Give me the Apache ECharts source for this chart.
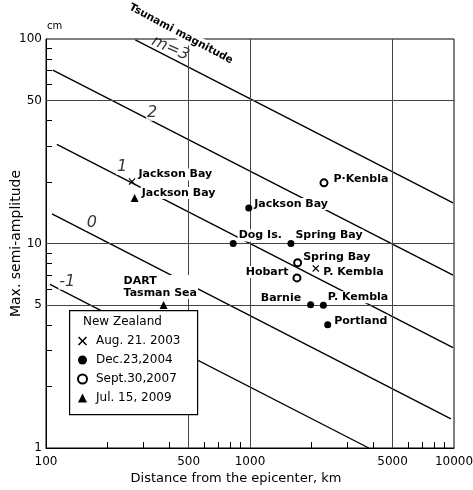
<!DOCTYPE html>
<html><head><meta charset="utf-8">
<script src="https://cdn.jsdelivr.net/npm/echarts@6/dist/echarts.min.js"></script>
<style>html,body{margin:0;padding:0;background:#fff}#c{width:473px;height:490px}</style>
</head><body><div id="c"></div>
<script>
// ---- axes ----
const xTickLabels = [100, 500, 1000, 5000, 10000];
const xMinorTicks = [200, 300, 400, 600, 700, 800, 900, 2000, 3000, 4000, 6000, 7000, 8000, 9000];
const yTickLabels = [1, 5, 10, 50, 100];
const yMinorTicks = [2, 3, 4, 6, 7, 8, 9, 20, 30, 40, 60, 70, 80, 90];
const xGridValues = [500, 1000, 5000];
const yGridValues = [5, 10, 50];

// ---- tsunami magnitude lines (distance km, amplitude cm) ----
const magNames = ['m=3', '2', '1', '0', '-1'];
const magLine3 = [[274, 98.9], [9890, 15.8]];
const magLine2 = [[108, 70.5], [9890, 7.0]];
const magLine1 = [[113, 30.5], [9890, 3.1]];
const magLine0 = [[107, 13.96], [9660, 1.39]];
const magLineM1 = [[104.6, 6.32], [3820, 1.0]];
const magLabelAt = [[407, 90], [331, 43.5], [236, 23.7], [168, 12.6], [127, 6.5]];

// ---- observations ----
const seriesNames = ['Aug. 21. 2003', 'Dec.23,2004', 'Sept.30,2007', 'Jul. 15, 2009'];
const aug2003Site = ['Jackson Bay', 'P. Kembla'];
const aug2003Dist = [264, 2100];
const aug2003Amp = [20.1, 7.55];
const dec2004Site = ['Jackson Bay', 'Dog Is.', 'Spring Bay', 'Barnie', 'P. Kembla', 'Portland'];
const dec2004Dist = [986, 827, 1587, 1982, 2289, 2404];
const dec2004Amp = [14.9, 10.0, 10.0, 5.02, 4.99, 4.01];
const sep2007Site = ['P·Kenbla', 'Spring Bay', 'Hobart'];
const sep2007Dist = [2305, 1712, 1699];
const sep2007Amp = [19.8, 8.05, 6.79];
const jul2009Site = ['Jackson Bay', 'DART\nTasman Sea'];
const jul2009Dist = [272, 377];
const jul2009Amp = [16.7, 5.0];

// ---- label placement (layout only) ----
const aug2003Place = [['right', [-3, -7]], ['right', [-2, 4]]];
const dec2004Place = [['right', [-4, -4]], ['right', [-4, -8]], ['right', [-5, -8]], ['left', [0, -7]], ['right', [-5, -8]], ['right', [-3, -4]]];
const sep2007Place = [['right', [-1, -4]], ['right', [-5, -6]], ['left', [2, -6]]];
const jul2009Place = [['right', [-3, -5]], ['top', [-41, 3]]];

const FONT = 'DejaVu Sans';
const crossPath = 'path://M0,1.2L1.2,0L5,3.8L8.8,0L10,1.2L6.2,5L10,8.8L8.8,10L5,6.2L1.2,10L0,8.8L3.8,5Z';

function pts(dist, amp, site, place) {
  return dist.map((d, i) => ({
    value: [d, amp[i]], name: site[i],
    label: {
      position: place[i][0], offset: place[i][1],
      align: place[i][0] === 'top' ? 'left' : undefined
    }
  }));
}
function obsSeries(name, symbol, size, data, extraStyle) {
  return {
    name, type: 'scatter', symbol, symbolSize: size, data, z: 5,
    itemStyle: Object.assign({ color: '#000', opacity: 1 }, extraStyle || {}),
    label: {
      show: true, formatter: p => p.name, color: '#000', fontFamily: FONT,
      fontSize: 11, fontWeight: 'bold', lineHeight: 12,
      backgroundColor: '#fff', padding: [0, 1]
    },
    emphasis: { disabled: true }, silent: true
  };
}
function magSeries(data) {
  return {
    type: 'line', data, symbol: 'none', silent: true, z: 3,
    lineStyle: { color: '#000', width: 1.4 }, emphasis: { disabled: true }
  };
}

const chart = echarts.init(document.getElementById('c'), null, { renderer: 'canvas' });
chart.setOption({
  animation: false,
  backgroundColor: '#fff',
  grid: { left: 46, top: 39, width: 408, height: 409, show: true, borderColor: '#000', borderWidth: 1,
    containLabel: false, outerBoundsMode: 'none' },
  xAxis: {
    type: 'log', logBase: 10, min: 100, max: 10000,
    name: 'Distance from the epicenter, km', nameLocation: 'middle', nameGap: 24, nameMoveOverlap: false,
    nameTextStyle: { fontFamily: FONT, fontSize: 13, color: '#000', padding: [0, 28, 0, 0] },
    axisLine: { show: true, lineStyle: { color: '#000', width: 1 } },
    axisTick: { show: true, inside: true, length: 6, customValues: xMinorTicks, lineStyle: { color: '#000' } },
    axisLabel: { customValues: xTickLabels, formatter: v => String(Math.round(v)),
      fontFamily: FONT, fontSize: 12, color: '#000', margin: 8 },
    splitLine: { show: false }, minorTick: { show: false }
  },
  yAxis: {
    type: 'log', logBase: 10, min: 1, max: 100,
    name: 'Max. semi-amplitude', nameLocation: 'middle', nameGap: 23, nameRotate: 90, nameMoveOverlap: false,
    nameTextStyle: { fontFamily: FONT, fontSize: 14, color: '#000' },
    axisLine: { show: true, lineStyle: { color: '#000', width: 1 } },
    axisTick: { show: true, inside: true, length: 6, customValues: yMinorTicks, lineStyle: { color: '#000' } },
    axisLabel: { customValues: yTickLabels, formatter: v => String(Math.round(v)),
      fontFamily: FONT, fontSize: 12, color: '#000', margin: 4 },
    splitLine: { show: false }, minorTick: { show: false }
  },
  legend: {
    data: seriesNames, orient: 'vertical', left: 77, top: 335, padding: 0,
    itemWidth: 9, itemHeight: 9, itemGap: 7, selectedMode: false, z: 60,
    textStyle: { fontFamily: FONT, fontSize: 12, color: '#000', padding: [0, 0, 0, 4] }
  },
  graphic: [
    { type: 'rect', left: 69, top: 310, z: 50, shape: { width: 128, height: 104 },
      style: { fill: '#fff', stroke: '#000', lineWidth: 1.2 } },
    { type: 'text', left: 83, top: 316, z: 60,
      style: { text: 'New Zealand', font: '12px "DejaVu Sans"', fill: '#000' } },
    { type: 'text', left: 47, top: 21, z: 60,
      style: { text: 'cm', font: '10px "DejaVu Sans"', fill: '#000' } },
    { type: 'text', x: 181, y: 34, rotation: -0.49, z: 100,
      style: { text: 'Tsunami magnitude', font: 'bold 10.5px "DejaVu Sans"', fill: '#000',
        textAlign: 'center', textVerticalAlign: 'middle', align: 'center', verticalAlign: 'middle',
        backgroundColor: '#fff', padding: [1, 2] } }
  ],
  series: [
    Object.assign(magSeries(magLine3), {
      markLine: {
        silent: true, symbol: ['none', 'none'], label: { show: false },
        lineStyle: { color: '#444', width: 1, type: 'solid' },
        data: xGridValues.map(v => ({ xAxis: v })).concat(yGridValues.map(v => ({ yAxis: v })))
      }
    }),
    magSeries(magLine2), magSeries(magLine1), magSeries(magLine0), magSeries(magLineM1),
    {
      type: 'scatter', silent: true, z: 4, symbol: 'circle', symbolSize: 1,
      itemStyle: { color: 'rgba(0,0,0,0)' },
      data: magNames.map((n, i) => ({
        value: magLabelAt[i], name: n,
        label: i === 0 ? { rotate: -24, fontSize: 16, backgroundColor: 'transparent', padding: 0 } : { fontSize: 16 }
      })),
      label: { show: true, position: 'inside', formatter: p => p.name, color: '#000',
        fontFamily: FONT, fontStyle: 'italic', backgroundColor: '#fff', padding: [0, 1] },
      emphasis: { disabled: true }
    },
    obsSeries(seriesNames[0], crossPath, 7, pts(aug2003Dist, aug2003Amp, aug2003Site, aug2003Place)),
    obsSeries(seriesNames[1], 'circle', 7, pts(dec2004Dist, dec2004Amp, dec2004Site, dec2004Place)),
    obsSeries(seriesNames[2], 'emptyCircle', 7, pts(sep2007Dist, sep2007Amp, sep2007Site, sep2007Place),
      { borderColor: '#000', borderWidth: 1.2 }),
    obsSeries(seriesNames[3], 'triangle', 8, pts(jul2009Dist, jul2009Amp, jul2009Site, jul2009Place))
  ]
});
</script></body></html>
